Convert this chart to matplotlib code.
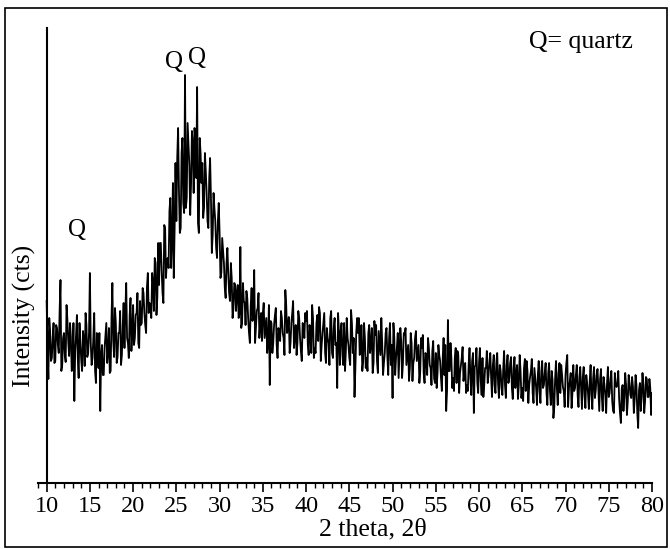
import numpy as np
import matplotlib
matplotlib.use("Agg")
import matplotlib.pyplot as plt
from matplotlib.patches import Rectangle
from matplotlib.ticker import MultipleLocator

plt.rcParams['font.family'] = ['Liberation Serif', 'DejaVu Serif']

# 2-theta grid: readings at 10.0, 10.2, ... (set A) and 10.1, 10.3, ... (set B)
two_theta_start = 10.0
two_theta_step = 0.2

# ---- set A: intensity read at d.0, d.2, d.4, d.6, d.8 ----
counts_a_10_20 = [
    182, 104, 152, 125, 160,   # 10
    122, 155, 130, 203, 118,   # 11
    150, 121, 163, 127, 146,   # 12
    119, 82, 148, 125, 160,    # 13
    123, 152, 117, 158, 130,   # 14
    210, 118, 145, 112, 150,   # 15
    115, 72, 138, 108, 147,    # 16
    120, 155, 112, 200, 126,   # 17
    160, 126, 150, 118, 158,   # 18
    135, 200, 140, 168, 132,   # 19
]
counts_a_20_30 = [
    178, 145, 170, 140, 182,   # 20
    160, 190, 158, 196, 170,   # 21
    178, 210, 172, 220, 186,   # 22
    198, 240, 190, 258, 205,   # 23
    225, 272, 215, 300, 255,   # 24
    262, 355, 250, 330, 280,   # 25
    408, 285, 340, 268, 352,   # 26
    290, 340, 396, 250, 330,   # 27
    320, 275, 312, 262, 305,   # 28
    285, 248, 275, 235, 262,   # 29
]
counts_a_30_40 = [
    250, 210, 232, 195, 220,   # 30
    210, 182, 205, 175, 198,   # 31
    190, 165, 236, 160, 182,   # 32
    158, 185, 150, 178, 162,   # 33
    213, 155, 175, 145, 170,   # 34
    170, 145, 165, 140, 98,    # 35
    160, 140, 168, 138, 155,   # 36
    142, 165, 145, 193, 150,   # 37
    166, 140, 170, 135, 158,   # 38
    140, 165, 132, 160, 145,   # 39
]
counts_a_40_50 = [
    162, 138, 158, 130, 165,   # 40
    135, 160, 142, 170, 138,   # 41
    160, 130, 155, 140, 165,   # 42
    130, 155, 138, 95, 150,    # 43
    152, 128, 160, 132, 145,   # 44
    125, 173, 130, 86, 150,    # 45
    150, 128, 158, 122, 145,   # 46
    125, 150, 130, 155, 120,   # 47
    148, 122, 152, 128, 140,   # 48
    120, 150, 126, 145, 118,   # 49
]
counts_a_50_60 = [
    85, 145, 125, 150, 130,    # 50
    142, 120, 148, 118, 138,   # 51
    115, 140, 120, 145, 122,   # 52
    138, 112, 135, 110, 130,   # 53
    108, 135, 115, 132, 105,   # 54
    130, 110, 128, 105, 125,   # 55
    108, 72, 163, 112, 125,    # 56
    105, 125, 100, 128, 110,   # 57
    125, 102, 120, 98, 118,    # 58
    105, 122, 70, 118, 100,    # 59
]
counts_a_60_70 = [
    120, 102, 125, 98, 115,    # 60
    100, 122, 105, 118, 98,    # 61
    120, 100, 118, 95, 115,    # 62
    98, 118, 100, 120, 95,     # 63
    115, 95, 118, 98, 112,     # 64
    95, 115, 92, 112, 98,      # 65
    112, 90, 115, 95, 108,     # 66
    92, 112, 95, 110, 90,      # 67
    110, 92, 112, 65, 105,     # 68
    95, 110, 90, 108, 92,      # 69
]
counts_a_70_80 = [
    108, 128, 95, 110, 90,     # 70
    92, 108, 88, 106, 95,      # 71
    106, 88, 108, 90, 102,     # 72
    88, 105, 85, 108, 92,      # 73
    104, 86, 106, 88, 100,     # 74
    86, 104, 82, 70, 98,       # 75
    100, 84, 60, 98, 86,       # 76
    98, 82, 100, 85, 96,       # 77
    84, 98, 55, 100, 86,       # 78
    98, 82, 104, 86, 95,       # 79
    90,                        # 80
]

# ---- set B: intensity read at d.1, d.3, d.5, d.7, d.9 ----
counts_b_10_20 = [
    135, 165, 122, 146, 120,   # 10
    158, 138, 172, 112, 145,   # 11
    128, 178, 141, 160, 112,   # 12
    160, 131, 168, 105, 140,   # 13
    112, 143, 170, 126, 150,   # 14
    140, 125, 170, 100, 128,   # 15
    150, 128, 108, 135, 160,   # 16
    130, 110, 165, 142, 175,   # 17
    120, 150, 172, 128, 180,   # 18
    172, 145, 125, 185, 150,   # 19
]
counts_b_20_30 = [
    138, 168, 190, 135, 158,   # 20
    195, 170, 150, 210, 180,   # 21
    165, 200, 225, 168, 240,   # 22
    240, 212, 180, 255, 222,   # 23
    215, 285, 245, 205, 320,   # 24
    325, 292, 255, 345, 270,   # 25
    275, 360, 318, 300, 340,   # 26
    355, 305, 260, 345, 300,   # 27
    265, 330, 290, 255, 325,   # 28
    230, 290, 262, 225, 280,   # 29
]
counts_b_30_40 = [
    205, 245, 220, 185, 235,   # 30
    190, 220, 165, 200, 172,   # 31
    198, 170, 155, 200, 180,   # 32
    192, 165, 140, 195, 168,   # 33
    140, 172, 190, 160, 142,   # 34
    180, 155, 130, 178, 162,   # 35
    130, 158, 175, 125, 150,   # 36
    172, 150, 128, 178, 155,   # 37
    130, 160, 182, 148, 128,   # 38
    172, 145, 122, 158, 170,   # 39
]
counts_b_40_50 = [
    172, 128, 150, 178, 125,   # 40
    130, 168, 176, 122, 150,   # 41
    170, 120, 145, 118, 172,   # 42
    125, 165, 140, 170, 118,   # 43
    160, 118, 112, 165, 138,   # 44
    118, 160, 145, 115, 165,   # 45
    165, 132, 112, 160, 115,   # 46
    112, 158, 140, 110, 162,   # 47
    158, 110, 140, 165, 108,   # 48
    130, 155, 108, 160, 138,   # 49
]
counts_b_50_60 = [
    160, 108, 135, 105, 155,   # 50
    105, 150, 155, 128, 102,   # 51
    150, 102, 125, 152, 130,   # 52
    100, 145, 148, 100, 128,   # 53
    145, 118, 98, 142, 100,    # 54
    95, 138, 122, 92, 145,     # 55
    138, 92, 112, 140, 95,     # 56
    92, 135, 132, 90, 118,     # 57
    136, 110, 90, 92, 135,     # 58
    88, 130, 116, 135, 90,     # 59
]
counts_b_60_70 = [
    135, 88, 86, 115, 132,     # 60
    108, 130, 86, 128, 90,     # 61
    130, 85, 112, 88, 132,     # 62
    85, 128, 105, 126, 84,     # 63
    126, 108, 84, 128, 85,     # 64
    82, 124, 122, 80, 106,     # 65
    124, 80, 105, 78, 122,     # 66
    80, 122, 98, 120, 78,      # 67
    120, 78, 103, 76, 122,     # 68
    78, 120, 118, 96, 76,      # 69
]
counts_b_70_80 = [
    120, 76, 102, 75, 118,     # 70
    95, 118, 76, 116, 74,      # 71
    116, 75, 100, 74, 118,     # 72
    74, 116, 93, 114, 72,      # 73
    114, 72, 98, 70, 116,      # 74
    90, 112, 72, 110, 96,      # 75
    112, 70, 94, 72, 110,      # 76
    68, 108, 88, 106, 70,      # 77
    108, 70, 93, 72, 110,      # 78
    70, 106, 86, 104, 68,      # 79
]

xtick_values = list(range(10, 81, 5))
xtick_labels = [str(v) for v in xtick_values]

counts_a = np.array(counts_a_10_20 + counts_a_20_30 + counts_a_30_40 + counts_a_40_50
                    + counts_a_50_60 + counts_a_60_70 + counts_a_70_80, dtype=float)
counts_b = np.array(counts_b_10_20 + counts_b_20_30 + counts_b_30_40 + counts_b_40_50
                    + counts_b_50_60 + counts_b_60_70 + counts_b_70_80, dtype=float)
theta_a = two_theta_start + two_theta_step * np.arange(len(counts_a))
theta_b = two_theta_start + two_theta_step / 2 + two_theta_step * np.arange(len(counts_b))

two_theta = np.concatenate([theta_a, theta_b])
counts = np.concatenate([counts_a, counts_b])
order = np.argsort(two_theta)
two_theta = two_theta[order]
counts = counts[order]

W, H = 670, 549
fig = plt.figure(figsize=(W / 100, H / 100), dpi=100)
ax = fig.add_axes([38 / W, (H - 483) / H, (652 - 38) / W, (483 - 28) / H])

ax.plot(two_theta, counts, color='black', lw=1.3)

ax.set_xlim(9.0, 80.0)
ax.set_ylim(0, 455)
ax.spines['top'].set_visible(False)
ax.spines['right'].set_visible(False)
ax.spines['left'].set_position(('data', 10))
ax.spines['left'].set_linewidth(1.5)
ax.spines['bottom'].set_linewidth(1.5)
ax.set_yticks([])
ax.set_xticks(xtick_values)
ax.set_xticklabels(xtick_labels, fontsize=17.5)
ax.xaxis.set_minor_locator(MultipleLocator(1))
ax.tick_params(axis='x', which='major', direction='out', length=6.5, width=1.2, pad=3)
ax.tick_params(axis='x', which='minor', direction='out', length=3.5, width=1.0)

fig.text(373 / W, 1 - 529 / H, "2 theta, 2\u03b8", ha='center', va='center', fontsize=18.5)
fig.text(24 / W, 1 - 316 / H, "Intensity (cts)", ha='center', va='center', rotation=90, fontsize=18.5)
fig.text(529 / W, 1 - 42 / H, "Q= quartz", ha='left', va='center', fontsize=18.5)

fig.text(77 / W, 1 - 230 / H, "Q", ha='center', va='center', fontsize=18)
fig.text(174 / W, 1 - 62 / H, "Q", ha='center', va='center', fontsize=18)
fig.text(197 / W, 1 - 58 / H, "Q", ha='center', va='center', fontsize=18)

fig.patches.append(Rectangle((5 / W, 2 / H), 662 / W, 539 / H, transform=fig.transFigure,
                             fill=False, edgecolor='black', lw=1.2))

fig.savefig("out.png", dpi=100)
